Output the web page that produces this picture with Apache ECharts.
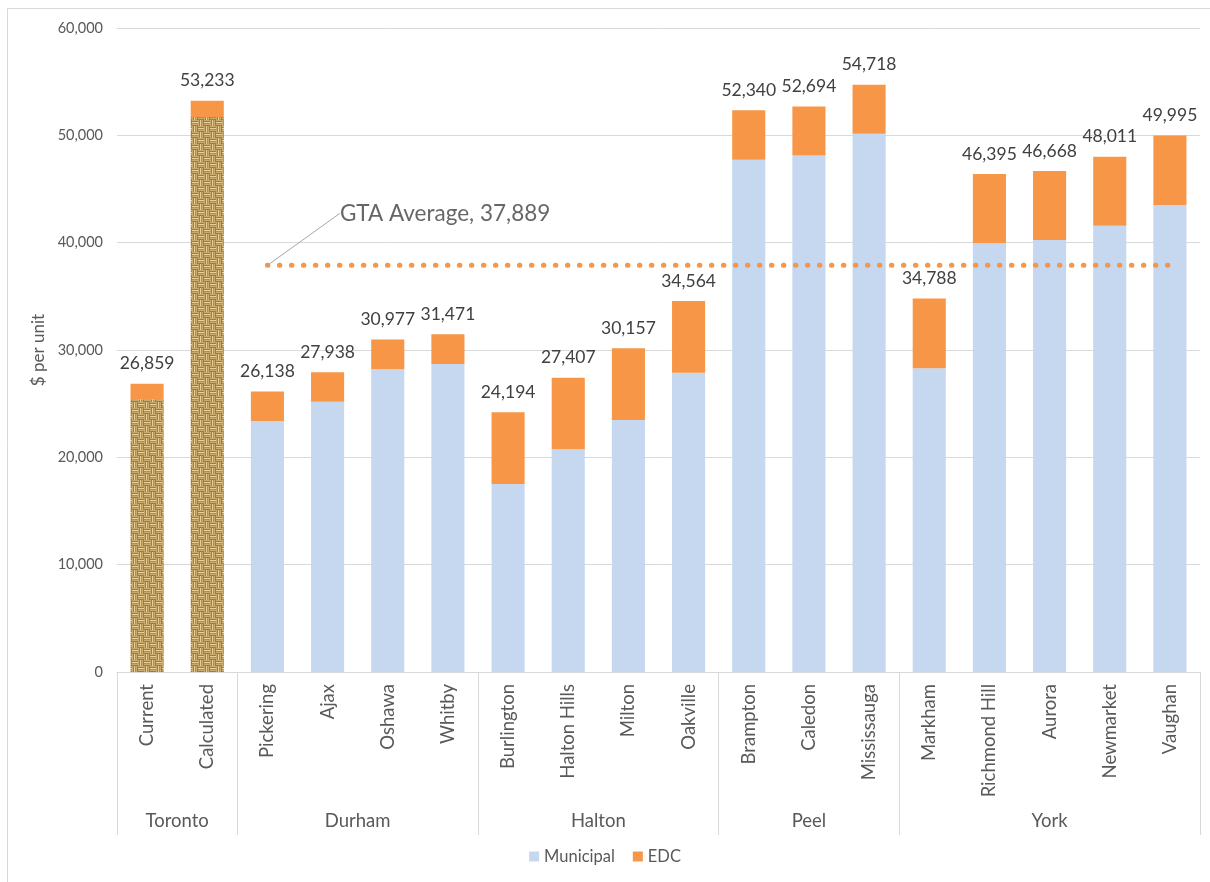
<!DOCTYPE html>
<html>
<head>
<meta charset="utf-8">
<script src="https://cdn.jsdelivr.net/npm/echarts@6/dist/echarts.min.js"></script>
<style>
html,body{margin:0;padding:0;background:#fff;}
#chart{width:1210px;height:882px;}
</style>
</head>
<body>
<div id="chart"></div>
<script>
// ---- data ----
const categories = ['Current','Calculated','Pickering','Ajax','Oshawa','Whitby','Burlington','Halton Hills','Milton','Oakville','Brampton','Caledon','Mississauga','Markham','Richmond Hill','Aurora','Newmarket','Vaughan'];
const groups = ['Toronto','Durham','Halton','Peel','York'];
const groupSizes = [2,4,4,3,5];
const municipal = [25400,51700,23390,25190,28210,28700,17520,20750,23480,27890,47720,48120,50140,28300,39950,40260,41570,43520];
const totals = [26859,53233,26138,27938,30977,31471,24194,27407,30157,34564,52340,52694,54718,34788,46395,46668,48011,49995];
const gtaAverage = 37889;
const gtaStartIndex = 2;
const yMin = 0, yMax = 60000, yInterval = 10000;
const texturedIndices = [0,1];

// ---- derived ----
const edc = totals.map((t,i) => t - municipal[i]);
const fmt = v => v.toLocaleString('en-US');
const boundaries = [0];
groupSizes.forEach(s => boundaries.push(boundaries[boundaries.length-1] + s));
const centers = groupSizes.map((s,i) => boundaries[i] + s/2);

function makeBurlap(){
  const c = document.createElement('canvas');
  const B = 6;
  c.width = 2*B; c.height = 2*B;
  const g = c.getContext('2d');
  g.fillStyle = '#6b5028'; g.fillRect(0,0,2*B,2*B);
  for (let by=0; by<2; by++) for (let bx=0; bx<2; bx++){
    const horiz = (bx+by)%2===0;
    for (let k=0;k<3;k++){
      g.fillStyle = k===1 ? '#e6d09c' : '#c9aa6c';
      if (horiz) g.fillRect(bx*B, by*B + k*2, B, 1.5);
      else g.fillRect(bx*B + k*2, by*B, 1.5, B);
    }
  }
  return c;
}
const burlap = {image: makeBurlap(), repeat: 'repeat'};

const BLUE = '#c5d8f0', ORANGE = '#f79646', GRID = '#d9d9d9', TXT = '#595959';
const FONT = 'Lato, "Open Sans", sans-serif';

const municipalData = municipal.map((v,i) => texturedIndices.includes(i)
  ? {value: v, itemStyle: {color: burlap}} : v);
const gtaLine = categories.map((c,i) => i >= gtaStartIndex ? gtaAverage : null);

const chart = echarts.init(document.getElementById('chart'));
chart.setOption({
  animation: false,
  textStyle: {fontFamily: FONT},
  grid: {left: 117, right: 10, top: 28, bottom: 210},
  legend: {
    bottom: 12, left: 'center', icon: 'rect', itemWidth: 10, itemHeight: 10, itemGap: 18,
    textStyle: {fontSize: 16.5, color: TXT, fontFamily: FONT},
    data: ['Municipal','EDC']
  },
  xAxis: [{
    type: 'category', data: categories,
    axisLine: {lineStyle: {color: GRID}},
    axisTick: {show: false},
    axisLabel: {rotate: 90, margin: 12, fontSize: 18.5, color: TXT, fontFamily: FONT, interval: 0}
  },{
    type: 'value', min: 0, max: categories.length, position: 'bottom',
    axisLine: {show: false}, splitLine: {show: false},
    axisTick: {show: true, customValues: boundaries, length: 163, lineStyle: {color: GRID}},
    axisLabel: {customValues: centers, margin: 140, fontSize: 18.5, color: TXT, fontFamily: FONT,
      formatter: v => { const i = centers.findIndex(c => Math.abs(c - v) < 1e-6); return i >= 0 ? groups[i] : ''; }}
  }],
  yAxis: {
    type: 'value', min: yMin, max: yMax, interval: yInterval,
    name: '$ per unit', nameLocation: 'middle', nameGap: 70, nameRotate: 90,
    nameTextStyle: {fontSize: 17, color: TXT, fontFamily: FONT},
    axisLine: {show: false}, axisTick: {show: false},
    axisLabel: {fontSize: 14.5, color: TXT, margin: 14, fontFamily: FONT, formatter: v => fmt(v)},
    splitLine: {lineStyle: {color: GRID}}
  },
  series: [{
    name: 'Municipal', type: 'bar', stack: 'a', barWidth: '55%', xAxisIndex: 0,
    itemStyle: {color: BLUE}, data: municipalData
  },{
    name: 'EDC', type: 'bar', stack: 'a', barWidth: '55%', xAxisIndex: 0,
    itemStyle: {color: ORANGE}, data: edc,
    label: {show: true, position: 'top', distance: 11, fontSize: 17.5, color: '#404040', fontFamily: FONT,
      formatter: p => fmt(totals[p.dataIndex])}
  },{
    name: 'GTA Average', type: 'line', xAxisIndex: 0, data: gtaLine, symbol: 'none', silent: true, z: 4,
    lineStyle: {color: ORANGE, width: 5, type: [0.5, 11.5], cap: 'round'}
  },{
    name: 'GTA label', type: 'scatter', xAxisIndex: 0, silent: true, z: 5,
    data: [[gtaStartIndex, gtaAverage]], symbolSize: 1, itemStyle: {color: 'rgba(0,0,0,0)'},
    label: {show: true, position: 'right', distance: 0, fontSize: 22.5, color: '#404040', fontFamily: FONT,
      formatter: 'GTA Average, ' + fmt(gtaAverage)},
    labelLayout: {dx: 72, dy: -52},
    labelLine: {show: true, lineStyle: {color: '#a6a6a6', width: 1}}
  }],
  graphic: [{
    type: 'rect', silent: true, z: -1,
    shape: {x: 7.5, y: 8.5, width: 1220, height: 900},
    style: {fill: 'none', stroke: GRID, lineWidth: 1}
  }]
});
</script>
</body>
</html>
